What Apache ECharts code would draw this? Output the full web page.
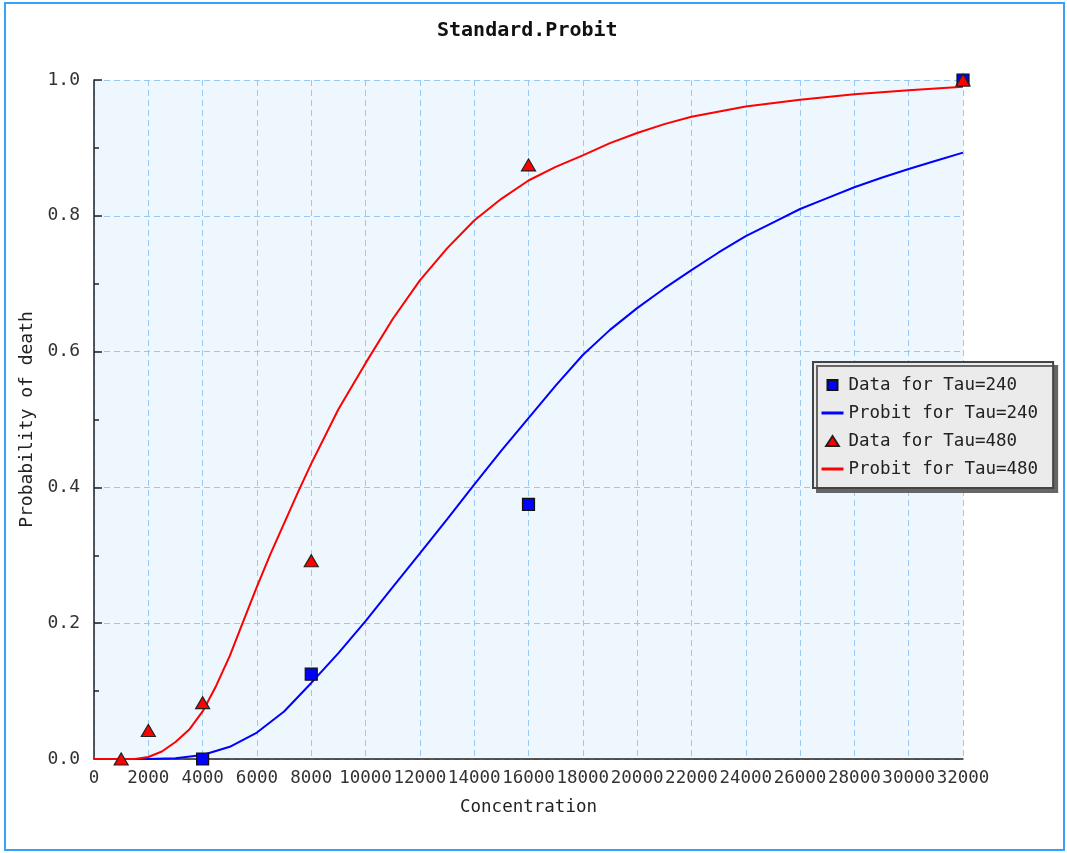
<!DOCTYPE html>
<html>
<head>
<meta charset="utf-8">
<script src="https://cdn.jsdelivr.net/npm/echarts@6/dist/echarts.min.js"></script>
<style>
html,body{margin:0;padding:0;background:#fff;}
#chart{width:1067px;height:853px;}
</style>
</head>
<body>
<div id="chart"></div>
<script>
// ---- data ----
const titleText = 'Standard.Probit';
const xAxisName = 'Concentration';
const yAxisName = 'Probability of death';
const seriesNames = ['Data for Tau=240', 'Probit for Tau=240', 'Data for Tau=480', 'Probit for Tau=480'];

const dataX240 = [4000, 8000, 16000, 32000];
const dataY240 = [0, 0.125, 0.375, 1.0];
const dataX480 = [1000, 2000, 4000, 8000, 16000, 32000];
const dataY480 = [0, 0.042, 0.083, 0.292, 0.875, 1.0];

const curveX240 = [0, 1000, 2000, 3000, 4000, 5000, 6000, 7000, 8000, 9000, 10000, 11000, 12000, 13000, 14000, 15000, 16000, 17000, 18000, 19000, 20000, 21000, 22000, 23000, 24000, 25000, 26000, 27000, 28000, 29000, 30000, 31000, 32000];
const curveY240 = [0, 0, 0, 0.001, 0.006, 0.018, 0.039, 0.07, 0.112, 0.156, 0.203, 0.253, 0.303, 0.353, 0.404, 0.454, 0.502, 0.55, 0.595, 0.632, 0.664, 0.693, 0.72, 0.746, 0.77, 0.79, 0.81, 0.826, 0.842, 0.856, 0.869, 0.881, 0.893];

const curveX480 = [0, 1000, 1500, 2000, 2500, 3000, 3500, 4000, 4500, 5000, 5500, 6000, 6500, 7000, 7500, 8000, 9000, 10000, 11000, 12000, 13000, 14000, 15000, 16000, 17000, 18000, 19000, 20000, 21000, 22000, 24000, 26000, 28000, 30000, 32000];
const curveY480 = [0, 0, 0, 0.003, 0.011, 0.025, 0.043, 0.07, 0.108, 0.152, 0.203, 0.254, 0.302, 0.347, 0.392, 0.435, 0.515, 0.583, 0.648, 0.705, 0.752, 0.793, 0.825, 0.852, 0.872, 0.889, 0.907, 0.922, 0.935, 0.946, 0.961, 0.971, 0.979, 0.985, 0.99];

const xMin = 0, xMax = 32000, xStep = 2000;
const yMin = 0, yMax = 1, yStep = 0.2;

function pairs(xs, ys) { return xs.map((x, i) => [x, ys[i]]); }

const mono = "'DejaVu Sans Mono', monospace";
const chart = echarts.init(document.getElementById('chart'), null, {renderer: 'canvas'});

chart.setOption({
  backgroundColor: '#ffffff',
  animation: false,
  title: {
    text: titleText,
    left: 432,
    top: 16,
    textStyle: {fontFamily: mono, fontSize: 20, fontWeight: 'bold', color: '#111'}
  },
  graphic: [{
    type: 'rect',
    shape: {x: 5, y: 3, width: 1059, height: 847},
    style: {fill: 'none', stroke: '#3aa2f6', lineWidth: 2},
    z: 100
  }],
  legend: {
    orient: 'vertical',
    left: 813,
    top: 362,
    data: [
      {name: seriesNames[0], icon: 'path://M0,0M22,10M6,0L16,0L16,10L6,10Z'},
      {name: seriesNames[1], itemStyle: {opacity: 0}, lineStyle: {width: 3}},
      {name: seriesNames[2], icon: 'path://M0,0M22,11M11,0L18,11L4,11Z'},
      {name: seriesNames[3], itemStyle: {opacity: 0}, lineStyle: {width: 3}}
    ],
    itemWidth: 22,
    itemHeight: 10,
    itemGap: 10,
    padding: [14, 15, 10, 7],
    backgroundColor: '#ebebeb',
    borderColor: '#444',
    borderWidth: 2,
    borderRadius: 0,
    shadowColor: '#666',
    shadowBlur: 0,
    shadowOffsetX: 4,
    shadowOffsetY: 4,
    textStyle: {fontFamily: mono, fontSize: 17.5, color: '#222', lineHeight: 18},
    selectedMode: false
  },
  grid: {
    left: 94, right: 104, top: 80, bottom: 94,
    show: true,
    backgroundColor: '#eef6fe',
    borderWidth: 0
  },
  xAxis: {
    type: 'value',
    min: xMin, max: xMax, interval: xStep,
    name: xAxisName,
    nameLocation: 'middle',
    nameGap: 39,
    nameTextStyle: {fontFamily: mono, fontSize: 17.5, color: '#222'},
    axisLine: {show: true, onZero: false, lineStyle: {color: '#222', width: 1.5}},
    axisTick: {show: false},
    axisLabel: {fontFamily: mono, fontSize: 17.5, color: '#333', margin: 10, hideOverlap: false, showMinLabel: true, showMaxLabel: true, formatter: v => String(v)},
    splitLine: {show: true, lineStyle: {color: '#99c8f5', type: [6, 4], width: 1}}
  },
  yAxis: {
    type: 'value',
    min: yMin, max: yMax, interval: yStep,
    name: yAxisName,
    nameLocation: 'middle',
    nameGap: 57,
    nameTextStyle: {fontFamily: mono, fontSize: 18, color: '#222'},
    axisLine: {show: true, onZero: false, lineStyle: {color: '#222', width: 1.5}},
    axisTick: {show: true, inside: true, length: 8, lineStyle: {color: '#222', width: 1.5}},
    minorTick: {show: true, splitNumber: 2, length: 5, lineStyle: {color: '#222', width: 1.5}},
    axisLabel: {fontFamily: mono, fontSize: 18, color: '#333', margin: 14, formatter: v => v.toFixed(1)},
    splitLine: {show: true, lineStyle: {color: '#99c8f5', type: [6, 4], width: 1}}
  },
  series: [
    {
      name: seriesNames[1], type: 'line', data: pairs(curveX240, curveY240),
      symbol: 'none', showSymbol: false, smooth: false,
      lineStyle: {color: '#0000ff', width: 2}, itemStyle: {color: '#0000ff'}, z: 2
    },
    {
      name: seriesNames[3], type: 'line', data: pairs(curveX480, curveY480),
      symbol: 'none', showSymbol: false, smooth: false,
      lineStyle: {color: '#ff0000', width: 2}, itemStyle: {color: '#ff0000'}, z: 3
    },
    {
      name: seriesNames[0], type: 'scatter', data: pairs(dataX240, dataY240),
      symbol: 'rect', symbolSize: 12,
      itemStyle: {color: '#0000ff', borderColor: '#111', borderWidth: 1.2, opacity: 1}, z: 4
    },
    {
      name: seriesNames[2], type: 'scatter', data: pairs(dataX480, dataY480),
      symbol: 'triangle', symbolSize: [14, 12],
      itemStyle: {color: '#ff0000', borderColor: '#222', borderWidth: 1.2, opacity: 1}, z: 5
    }
  ]
});
</script>
</body>
</html>
